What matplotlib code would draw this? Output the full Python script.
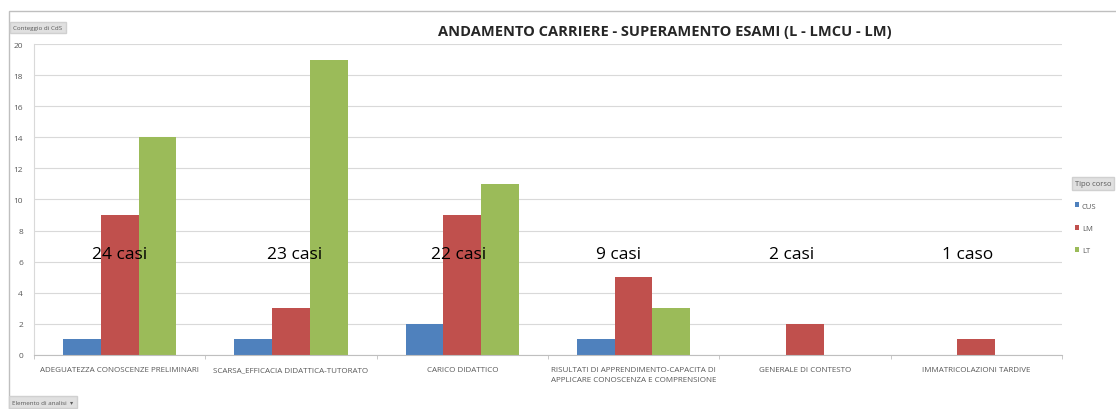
import numpy as np
import matplotlib.pyplot as plt
from matplotlib.patches import Rectangle

# Dati
categorie = [
    "ADEGUATEZZA CONOSCENZE PRELIMINARI",
    "SCARSA_EFFICACIA DIDATTICA-TUTORATO",
    "CARICO DIDATTICO",
    "RISULTATI DI APPRENDIMENTO-CAPACITA DI\nAPPLICARE CONOSCENZA E COMPRENSIONE",
    "GENERALE DI CONTESTO",
    "IMMATRICOLAZIONI TARDIVE",
]
cus = [1, 1, 2, 1, 0, 0]
lm = [9, 3, 9, 5, 2, 1]
lt = [14, 19, 11, 3, 0, 0]
casi = ["24 casi", "23 casi", "22 casi", "9 casi", "2 casi", "1 caso"]
casi_y = 6.5
casi_dx = [0.0, 0.02, -0.02, -0.09, -0.08, -0.05]

colori = {"CUS": "#4F81BD", "LM": "#C0504D", "LT": "#9BBB59"}
grigio = "#595959"

plt.rcParams["font.family"] = ["Open Sans", "DejaVu Sans"]

fig = plt.figure(figsize=(11.16, 4.10), dpi=100)
ax = fig.add_axes([0.0305, 0.132, 0.921, 0.758])

x = np.arange(len(categorie))
w = 0.22
b1 = ax.bar(x - w, cus, w, color=colori["CUS"], label="CUS")
b2 = ax.bar(x, lm, w, color=colori["LM"], label="LM")
b3 = ax.bar(x + w, lt, w, color=colori["LT"], label="LT")

ax.set_xlim(-0.5, len(categorie) - 0.5)
ax.set_ylim(0, 20)
ax.set_yticks(np.arange(0, 21, 2))
ax.yaxis.grid(True, color="#d9d9d9", linewidth=0.8)
ax.set_axisbelow(True)
ax.tick_params(axis="y", length=0, labelsize=6, labelcolor=grigio, pad=8)

ax.set_xticks(x)
ax.set_xticklabels(categorie, fontsize=5.8, color=grigio, linespacing=1.6)
ax.tick_params(axis="x", length=0, pad=8)
ax.set_xticks(np.arange(-0.5, len(categorie), 1), minor=True)
ax.tick_params(axis="x", which="minor", length=3, color="#bfbfbf")

for s in ["top", "right"]:
    ax.spines[s].set_visible(False)
ax.spines["left"].set_color("#d9d9d9")
ax.spines["bottom"].set_color("#bfbfbf")

for xi, t, dx in zip(x, casi, casi_dx):
    ax.text(xi + dx, casi_y, t, fontsize=12.5, ha="center", va="center", color="black")

fig.text(0.596, 0.922, "ANDAMENTO CARRIERE - SUPERAMENTO ESAMI (L - LMCU - LM)",
         ha="center", va="center", fontsize=10.5, fontweight="bold", color="#262626")

# cornice esterna
fig.patches.append(Rectangle((0.008, -0.01), 1.1, 0.98, transform=fig.transFigure,
                             fill=False, edgecolor="#bfbfbf", linewidth=1))

# pulsanti della tabella pivot
fig.text(0.012, 0.93, "Conteggio di CdS", fontsize=4.5, color=grigio, va="center",
         bbox=dict(boxstyle="square,pad=0.5", facecolor="#e0e0e0", edgecolor="#d0d0d0"))
fig.text(0.011, 0.017, "Elemento di analisi  \u25be", fontsize=4.5, color=grigio, va="center",
         bbox=dict(boxstyle="square,pad=0.5", facecolor="#e0e0e0", edgecolor="#d0d0d0"))

leg = fig.legend(handles=[b1, b2, b3], loc="upper left",
                 bbox_to_anchor=(0.957, 0.575), frameon=False, fontsize=5.5,
                 title="Tipo corso", title_fontsize=5.5, handlelength=0.6,
                 handleheight=0.6, handletextpad=0.3, labelspacing=2.0,
                 labelcolor=grigio, alignment="left")
leg.get_title().set_color(grigio)
leg.get_title().set_bbox(dict(boxstyle="square,pad=0.4", facecolor="#e0e0e0", edgecolor="#d0d0d0"))

fig.savefig("out.png", dpi=100)
